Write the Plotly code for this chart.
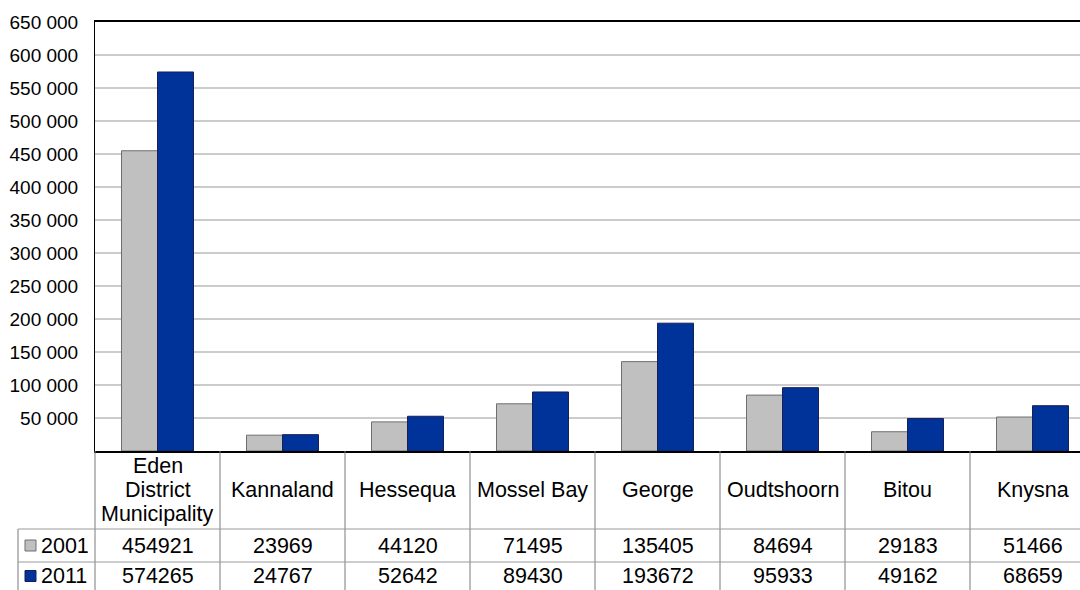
import plotly.graph_objects as go

# Population by municipality, Eden District
categories = ["Eden District Municipality", "Kannaland", "Hessequa", "Mossel Bay",
              "George", "Oudtshoorn", "Bitou", "Knysna"]
header_labels = ["Eden<br>District<br>Municipality", "Kannaland", "Hessequa", "Mossel Bay",
                 "George", "Oudtshoorn", "Bitou", "Knysna"]
years = ["2001", "2011"]
pop_2001 = [454921, 23969, 44120, 71495, 135405, 84694, 29183, 51466]
pop_2011 = [574265, 24767, 52642, 89430, 193672, 95933, 49162, 68659]
y_ticks = [50000, 100000, 150000, 200000, 250000, 300000, 350000,
           400000, 450000, 500000, 550000, 600000, 650000]

series_colors = ["#c0c0c0", "#003399"]
series_edges = ["#6e6e6e", "#1a1f55"]

W, H = 1080, 590
LEFT, TOP = 95, 22
PLOT_BOTTOM = 451
COL_W = 125
plot_w = W - LEFT
plot_h = PLOT_BOTTOM - TOP
x_lo = -0.5
x_hi = x_lo + plot_w / COL_W

FONT = "Liberation Sans, Arial, sans-serif"
TABLE_SIZE = 21.5
LINE_STEP = 24


def px_x(p):
    return (p - LEFT) / plot_w


def px_y(p):
    return (PLOT_BOTTOM - p) / plot_h


def cat_x(c):
    return px_x(LEFT + (c - x_lo) * COL_W)


fig = go.Figure()
for name, vals, col, edge in zip(years, [pop_2001, pop_2011], series_colors, series_edges):
    fig.add_trace(go.Bar(
        x=list(range(len(categories))), y=vals, name=name,
        marker=dict(color=col, line=dict(color=edge, width=1)),
        hovertext=categories,
    ))

shapes = []
annotations = []
table_bottom = H + 5
header_bottom = 529
row1_bottom = 562
line_col = "#7a7a7a"

# vertical separators of the data table
for i in range(len(categories) + 1):
    xp = cat_x(i - 0.5)
    shapes.append(dict(type="line", xref="paper", yref="paper",
                       x0=xp, x1=xp, y0=px_y(PLOT_BOTTOM), y1=px_y(table_bottom),
                       line=dict(color=line_col, width=1)))
shapes.append(dict(type="line", xref="paper", yref="paper",
                   x0=px_x(18), x1=px_x(18), y0=px_y(header_bottom), y1=px_y(table_bottom),
                   line=dict(color=line_col, width=1)))
# horizontal separators
for yy in [header_bottom, row1_bottom]:
    shapes.append(dict(type="line", xref="paper", yref="paper",
                       x0=px_x(18), x1=px_x(W + 5), y0=px_y(yy), y1=px_y(yy),
                       line=dict(color="#9a9a9a", width=1)))

# header cells, one annotation per text line for tight line spacing
header_mid = (PLOT_BOTTOM + header_bottom) / 2
for i, lab in enumerate(header_labels):
    lines = lab.split("<br>")
    for k, line in enumerate(lines):
        yc = header_mid + (k - (len(lines) - 1) / 2) * LINE_STEP
        annotations.append(dict(x=i, y=px_y(yc), xref="x", yref="paper",
                                text=line, showarrow=False,
                                xanchor="center", yanchor="middle",
                                font=dict(family=FONT, size=TABLE_SIZE, color="black")))

# value rows with legend keys
row_centers = [(header_bottom + row1_bottom) / 2, 576]
for name, vals, col, edge, yc in zip(years, [pop_2001, pop_2011], series_colors,
                                     series_edges, row_centers):
    shapes.append(dict(type="rect", xref="paper", yref="paper",
                       x0=px_x(25), x1=px_x(36), y0=px_y(yc - 5.5), y1=px_y(yc + 5.5),
                       fillcolor=col, line=dict(color=edge, width=1)))
    annotations.append(dict(x=px_x(39), y=px_y(yc), xref="paper", yref="paper",
                            text=name, showarrow=False, xanchor="left", yanchor="middle",
                            font=dict(family=FONT, size=TABLE_SIZE, color="black")))
    for i, v in enumerate(vals):
        annotations.append(dict(x=i, y=px_y(yc), xref="x", yref="paper",
                                text=str(v), showarrow=False,
                                xanchor="center", yanchor="middle",
                                font=dict(family=FONT, size=TABLE_SIZE, color="black")))

fig.update_layout(
    width=W, height=H,
    margin=dict(l=LEFT, r=0, t=TOP, b=H - PLOT_BOTTOM, pad=0),
    paper_bgcolor="white", plot_bgcolor="white",
    barmode="group", bargap=0.424, bargroupgap=0,
    showlegend=False,
    shapes=shapes, annotations=annotations,
    font=dict(family=FONT, color="black"),
)
fig.update_xaxes(range=[x_lo, x_hi], showticklabels=False, ticks="",
                 showgrid=False, zeroline=False,
                 showline=True, linecolor="black", linewidth=1.5, mirror=True)
fig.update_yaxes(range=[0, 650000], tickvals=y_ticks,
                 ticktext=[f"{v:,}".replace(",", " ") for v in y_ticks],
                 tickfont=dict(family=FONT, size=19, color="black"),
                 ticks="", ticklabelstandoff=12,
                 showgrid=True, gridcolor="#cccccc", gridwidth=1.5, zeroline=False,
                 showline=True, linecolor="black", linewidth=1)

fig.write_html("out.html")
